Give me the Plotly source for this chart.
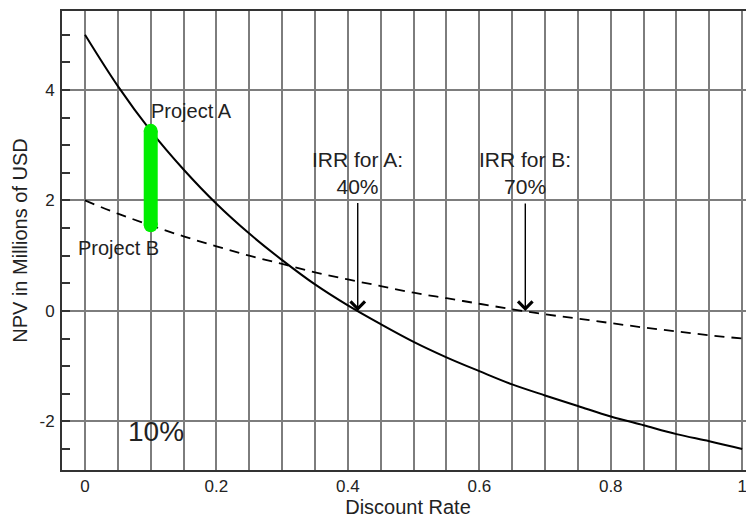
import plotly.graph_objects as go

# discount rates on the x axis
rates = [0.00, 0.05, 0.10, 0.15, 0.20, 0.25, 0.30, 0.35, 0.40, 0.45, 0.50,
         0.55, 0.60, 0.65, 0.70, 0.75, 0.80, 0.85, 0.90, 0.95, 1.00]
# NPV in millions of USD
npv_a = [5.00, 4.07, 3.26, 2.56, 1.94, 1.40, 0.92, 0.48, 0.10, -0.24, -0.56,
         -0.84, -1.09, -1.33, -1.53, -1.72, -1.91, -2.07, -2.23, -2.36, -2.50]
npv_b = [2.00, 1.76, 1.55, 1.35, 1.17, 1.00, 0.85, 0.70, 0.57, 0.45, 0.33,
         0.23, 0.13, 0.03, -0.06, -0.14, -0.22, -0.30, -0.37, -0.44, -0.50]

y_ticks = [-2, 0, 2, 4]
y_ticktext = ["-2", "0", "2", "4"]

hurdle = 0.10
gap_top = 3.26
gap_bottom = 1.55
irr_a = 0.415
irr_b = 0.67

FONT = "Liberation Sans, Arial, sans-serif"
TXT = "#222222"
GRID = "#7d7d7d"

fig = go.Figure()

fig.add_trace(go.Scatter(
    x=rates, y=npv_a, mode="lines", line=dict(color="black", width=2, shape="spline"),
    showlegend=False, hoverinfo="skip",
))
fig.add_trace(go.Scatter(
    x=rates, y=npv_b, mode="lines",
    line=dict(color="black", width=1.8, dash="10px,7px", shape="spline"),
    showlegend=False, hoverinfo="skip",
))

# green bar showing the NPV gap at 10%
fig.add_trace(go.Scatter(
    x=[hurdle, hurdle], y=[gap_top, gap_bottom], mode="lines+markers",
    line=dict(color="#00ee00", width=14),
    marker=dict(color="#00ee00", size=14, line=dict(width=0)),
    showlegend=False, hoverinfo="skip",
))

# IRR arrows
for irr, top in [(irr_a, 1.98), (irr_b, 1.97)]:
    fig.add_annotation(
        x=irr, y=0, ax=irr, ay=top, xref="x", yref="y", axref="x", ayref="y",
        text="", showarrow=True, arrowhead=4, arrowsize=2, arrowwidth=1.4,
        arrowcolor="black",
    )

labels = [
    dict(x=0.097, y=3.62, text="Project A", xanchor="left", size=20),
    dict(x=-0.013, y=1.14, text="Project B", xanchor="left", size=20),
    dict(x=irr_a, y=2.5, text="IRR for A:<br>40%", xanchor="center", size=21),
    dict(x=irr_b, y=2.5, text="IRR for B:<br>70%", xanchor="center", size=21),
    dict(x=0.063, y=-2.19, text="10%", xanchor="left", size=28),
]
for lab in labels:
    fig.add_annotation(
        x=lab["x"], y=lab["y"], xref="x", yref="y", text=lab["text"],
        xanchor=lab["xanchor"], yanchor="middle", showarrow=False,
        font=dict(family=FONT, size=lab["size"], color=TXT),
    )

fig.update_xaxes(
    range=[-0.035, 1.018], tick0=0, dtick=0.2, ticks="", automargin=False,
    showgrid=True, gridcolor=GRID, gridwidth=1.5, zeroline=False,
    minor=dict(dtick=0.05, tick0=0, showgrid=True, gridcolor=GRID, gridwidth=1.5),
    showline=True, linecolor="#333333", linewidth=2, mirror=True,
    title=dict(text="Discount Rate", font=dict(family=FONT, size=20, color=TXT), standoff=5),
    tickfont=dict(family=FONT, size=17, color=TXT), ticklabeloverflow="allow",
)
fig.update_yaxes(
    range=[-2.88, 5.43], tickmode="array", tickvals=y_ticks, ticktext=y_ticktext,
    ticks="inside", ticklen=8, tickcolor="#333333", tickwidth=1.5, automargin=False,
    showgrid=True, gridcolor=GRID, gridwidth=1.5, zeroline=False,
    minor=dict(tickmode="linear", dtick=0.5, tick0=0, ticks="inside", ticklen=8,
               tickcolor="#333333", tickwidth=1.5, showgrid=False),
    showline=True, linecolor="#333333", linewidth=2, mirror=False,
    title=dict(text="NPV in Millions of USD", font=dict(family=FONT, size=20, color=TXT), standoff=6),
    tickfont=dict(family=FONT, size=17, color=TXT),
    ticklabelstandoff=2,
)
# the page adds an 8px body margin, so the figure is 8px smaller and shifted
fig.update_layout(
    width=746, height=513,
    margin=dict(t=3, l=54, r=0, b=51),
    plot_bgcolor="white", paper_bgcolor="white",
)

fig.write_html("out.html")
